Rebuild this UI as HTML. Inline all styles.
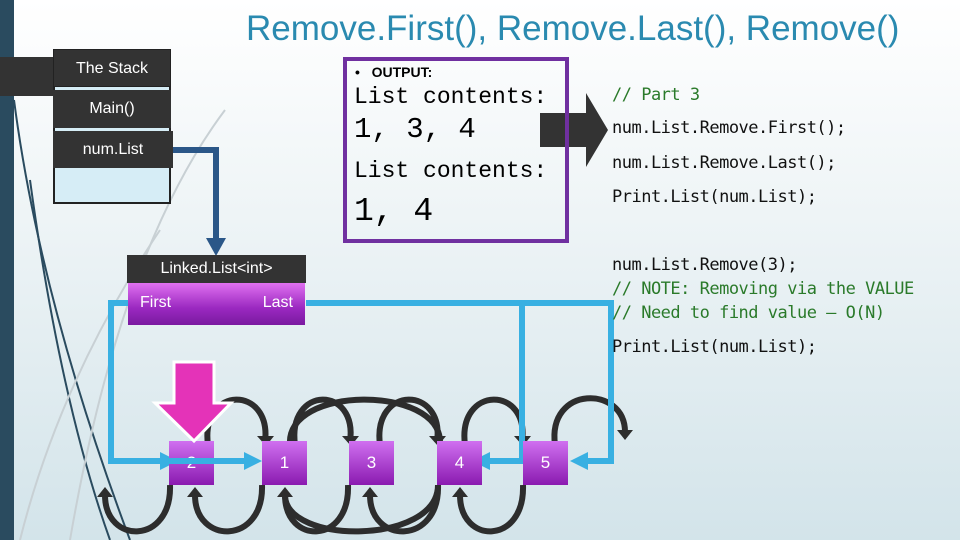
<!DOCTYPE html>
<html><head><style>
body{margin:0;width:960px;height:540px;overflow:hidden;font-family:"Liberation Sans",sans-serif;background:linear-gradient(#ffffff 0%,#eef4f6 40%,#d3e4ea 100%);position:relative}
.a{position:absolute}
.code{position:absolute;left:612px;font-size:17px;font-family:"DejaVu Sans Mono","Liberation Mono",monospace;color:#111;white-space:pre;letter-spacing:-0.5px}
.cm{color:#2a7a2a}
.node{position:absolute;top:441px;width:45px;height:44px;background:linear-gradient(#d070f0,#8a1ab0);color:#fff;font-size:17px;text-align:center;line-height:44px}
</style></head><body>
<svg class="a" style="left:0;top:0" width="960" height="540">
<rect x="0" y="0" width="14" height="540" fill="#2a4b5f"/>
<path d="M14 100 Q40 300 130 540" stroke="#2a4b5f" stroke-width="2" fill="none"/>
<path d="M30 180 Q60 400 110 540" stroke="#2a4b5f" stroke-width="2" fill="none"/>
<path d="M225 110 Q120 250 70 540" stroke="#c8d0d4" stroke-width="2" fill="none"/>
<path d="M160 230 Q60 380 20 540" stroke="#c8d0d4" stroke-width="2" fill="none"/>
<rect x="0" y="57" width="53" height="39" fill="#333"/>
<polyline points="172,150 216,150 216,240" stroke="#2b5788" stroke-width="6" fill="none"/>
<polygon points="206,238 226,238 216,256" fill="#2b5788"/>
<g stroke="#2d2d2d" stroke-width="6" fill="none">
<path d="M208 445 C200 385,272 385,265 442"/>
<path d="M295 445 C287 385,358 385,350 442"/>
<path d="M290 445 C285 385,440 385,440 442"/>
<path d="M380 445 C372 385,445 385,437 442"/>
<path d="M465 445 C457 385,530 385,522 442"/>
<path d="M555 445 C547 385,625 385,625 432"/>
<path d="M170 485 C172 545,105 545,105 495"/>
<path d="M262 485 C264 545,195 545,195 495"/>
<path d="M348 485 C350 545,285 545,285 495"/>
<path d="M438 485 C438 545,285 545,285 495"/>
<path d="M438 485 C440 545,370 545,370 495"/>
<path d="M523 485 C525 545,460 545,460 495"/>
</g>
<g fill="#2d2d2d">
<polygon points="257,436 274,436 266,446"/><polygon points="342,436 359,436 351,446"/>
<polygon points="429,436 446,436 438,446"/><polygon points="514,436 531,436 523,446"/>
<polygon points="617,430 633,430 625,440"/>
<polygon points="97,497 113,497 105,487"/><polygon points="187,497 203,497 195,487"/>
<polygon points="277,497 293,497 285,487"/><polygon points="362,497 378,497 370,487"/>
<polygon points="452,497 468,497 460,487"/>
</g>
<g stroke="#38b0e2" stroke-width="6" fill="none">
<polyline points="128,303 111,303 111,461 250,461"/>
<polyline points="306,303 611,303 611,461 578,461"/>
<polyline points="522,303 522,461 482,461"/>
</g>
<g fill="#38b0e2">
<polygon points="160,452 178,461 160,470"/>
<polygon points="244,452 262,461 244,470"/>
<polygon points="588,452 570,461 588,470"/>
<polygon points="490,452 472,461 490,470"/>
</g>
<polygon points="540,113 586,113 586,93 608,130 586,167 586,147 540,147" fill="#333"/>
</svg>
<div class="a" style="left:246px;top:9px;font-size:35px;color:#2a8ab0;white-space:nowrap">Remove.First(), Remove.Last(), Remove()</div>
<div class="a" style="left:53px;top:49px;width:118px;height:155px;border:2px solid #222;box-sizing:border-box;background:#d6edf6"></div>
<div class="a" style="left:53px;top:49px;width:118px;height:38px;background:#333;color:#fff;font-size:16px;text-align:center;line-height:38px;border:1px solid #222;box-sizing:border-box">The Stack</div>
<div class="a" style="left:53px;top:90px;width:118px;height:38px;background:#333;color:#fff;font-size:16px;text-align:center;line-height:38px">Main()</div>
<div class="a" style="left:53px;top:131px;width:120px;height:37px;background:#333;color:#fff;font-size:16px;text-align:center;line-height:37px">num.List</div>
<div class="a" style="left:343px;top:57px;width:226px;height:186px;border:4px solid #7030a0;box-sizing:border-box"></div>
<div class="a" style="left:355px;top:64px;font-size:14px;font-weight:bold">•&nbsp;&nbsp; OUTPUT:</div>
<div class="a" style="left:354px;top:82px;font-size:23px;font-family:'Liberation Mono',monospace;white-space:pre;line-height:30px">List contents:</div>
<div class="a" style="left:354px;top:113px;font-size:29px;font-family:'Liberation Mono',monospace;white-space:pre">1, 3, 4</div>
<div class="a" style="left:354px;top:156px;font-size:23px;font-family:'Liberation Mono',monospace;white-space:pre;line-height:30px">List contents:</div>
<div class="a" style="left:354px;top:193px;font-size:33px;font-family:'Liberation Mono',monospace;white-space:pre">1, 4</div>
<div class="code cm" style="top:85px">// Part 3</div>
<div class="code" style="top:118px">num.List.Remove.First();</div>
<div class="code" style="top:153px">num.List.Remove.Last();</div>
<div class="code" style="top:187px">Print.List(num.List);</div>
<div class="code" style="top:255px">num.List.Remove(3);</div>
<div class="code cm" style="top:279px">// NOTE: Removing via the VALUE</div>
<div class="code cm" style="top:303px">// Need to find value – O(N)</div>
<div class="code" style="top:337px">Print.List(num.List);</div>
<div class="a" style="left:127px;top:255px;width:179px;height:28px;background:#333;color:#fff;font-size:16px;text-align:center;line-height:28px">Linked.List&lt;int&gt;</div>
<div class="a" style="left:128px;top:283px;width:177px;height:42px;background:linear-gradient(#e070f0,#9a28c0 60%,#7a1aa0);color:#fff;font-size:16px"><span style="position:absolute;left:12px;top:11px">First</span><span style="position:absolute;right:12px;top:11px">Last</span></div>
<div class="node" style="left:169px">2</div>
<div class="node" style="left:262px">1</div>
<div class="node" style="left:349px">3</div>
<div class="node" style="left:437px">4</div>
<div class="node" style="left:523px">5</div>
<svg class="a" style="left:0;top:0" width="960" height="540">
<line x1="169" y1="461" x2="214" y2="461" stroke="#38b0e2" stroke-width="6"/>
<polygon points="174,362 214,362 214,403 231,403 194,441 155,403 174,403" fill="#e433b8" stroke="#fff" stroke-width="3"/>
</svg>
</body></html>
